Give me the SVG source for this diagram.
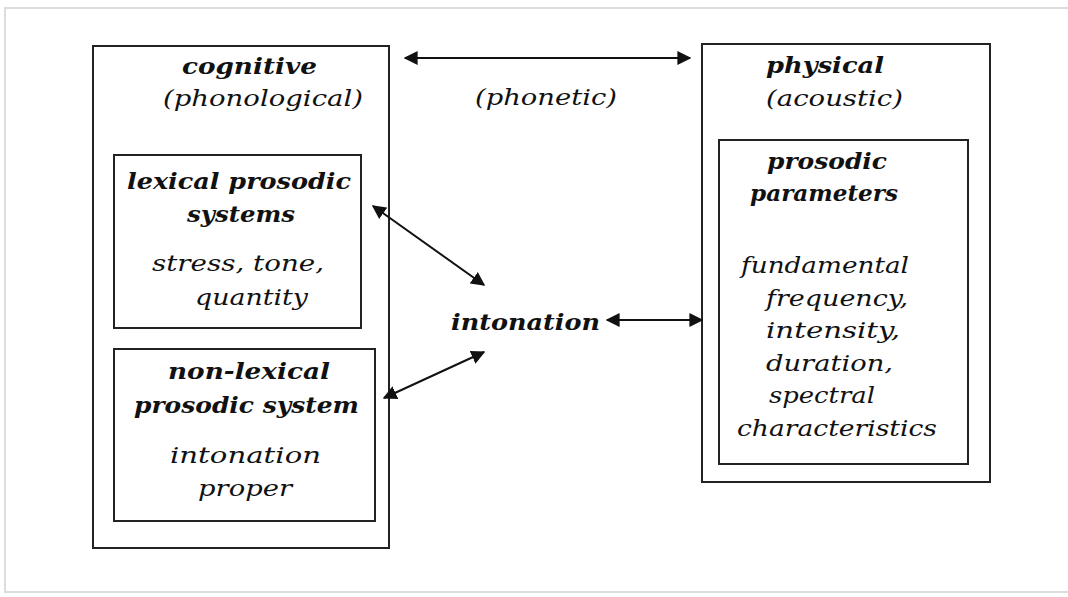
<svg xmlns="http://www.w3.org/2000/svg" width="1068" height="597" viewBox="0 0 1068 597">
<defs>
<marker id="ah" viewBox="0 0 10 10" refX="9" refY="5" markerWidth="7" markerHeight="7" orient="auto-start-reverse" markerUnits="strokeWidth">
<path d="M0,0 L10,5 L0,10 Z" fill="#111"/>
</marker>
<style>
.box{fill:none;stroke:#222;stroke-width:2}
.t{font-family:"DejaVu Serif","Liberation Serif",serif;font-style:italic;font-size:23px;fill:#111}
.b{font-weight:bold}
.c{stroke:#111;stroke-width:2;fill:none}
</style>
</defs>
<rect x="0" y="0" width="1068" height="597" fill="#fff"/>
<path d="M1068,8 L5,8 L5,592 L1068,592" fill="none" stroke="#ddd" stroke-width="2"/>
<g id="cognitive">
<rect class="box" x="93" y="46" width="296" height="502"/>
<text class="t b" x="182" y="74" textLength="135" lengthAdjust="spacingAndGlyphs">cognitive</text>
<text class="t" x="163" y="106" textLength="200" lengthAdjust="spacingAndGlyphs">(phonological)</text>
</g>
<g id="lexical">
<rect class="box" x="114" y="155" width="247" height="173"/>
<text class="t b" x="127" y="189" textLength="224" lengthAdjust="spacingAndGlyphs">lexical prosodic</text>
<text class="t b" x="187" y="222" textLength="108" lengthAdjust="spacingAndGlyphs">systems</text>
<text class="t" x="152" y="271" textLength="172" lengthAdjust="spacingAndGlyphs">stress, tone,</text>
<text class="t" x="195" y="305" textLength="113" lengthAdjust="spacingAndGlyphs">quantity</text>
</g>
<g id="nonlexical">
<rect class="box" x="114" y="349" width="261" height="172"/>
<text class="t b" x="168" y="379" textLength="162" lengthAdjust="spacingAndGlyphs">non-lexical</text>
<text class="t b" x="134" y="413" textLength="225" lengthAdjust="spacingAndGlyphs">prosodic system</text>
<text class="t" x="170" y="463" textLength="151" lengthAdjust="spacingAndGlyphs">intonation</text>
<text class="t" x="198" y="496" textLength="94" lengthAdjust="spacingAndGlyphs">proper</text>
</g>
<g id="physical">
<rect class="box" x="702" y="44" width="288" height="438"/>
<text class="t b" x="766" y="73" textLength="118" lengthAdjust="spacingAndGlyphs">physical</text>
<text class="t" x="766" y="106" textLength="137" lengthAdjust="spacingAndGlyphs">(acoustic)</text>
</g>
<g id="parameters">
<rect class="box" x="719" y="140" width="249" height="324"/>
<text class="t b" x="767" y="169" textLength="120" lengthAdjust="spacingAndGlyphs">prosodic</text>
<text class="t b" x="750" y="201" textLength="148" lengthAdjust="spacingAndGlyphs">parameters</text>
<text class="t" x="741" y="273" textLength="168" lengthAdjust="spacingAndGlyphs">fundamental</text>
<text class="t" x="766" y="306" textLength="142" lengthAdjust="spacingAndGlyphs">frequency,</text>
<text class="t" x="766" y="338" textLength="134" lengthAdjust="spacingAndGlyphs">intensity,</text>
<text class="t" x="766" y="371" textLength="127" lengthAdjust="spacingAndGlyphs">duration,</text>
<text class="t" x="769" y="403" textLength="106" lengthAdjust="spacingAndGlyphs">spectral</text>
<text class="t" x="737" y="436" textLength="200" lengthAdjust="spacingAndGlyphs">characteristics</text>
</g>
<g id="intonation">
<text class="t b" x="451" y="330" textLength="149" lengthAdjust="spacingAndGlyphs">intonation</text>
</g>
<g id="phonetic">
<text class="t" x="475" y="105" textLength="142" lengthAdjust="spacingAndGlyphs">(phonetic)</text>
</g>
<g id="connectors">
<line class="c" x1="405" y1="58" x2="690" y2="58" marker-start="url(#ah)" marker-end="url(#ah)"/>
<line class="c" x1="607" y1="320" x2="702" y2="320" marker-start="url(#ah)" marker-end="url(#ah)"/>
<line class="c" x1="373" y1="206" x2="484" y2="285" marker-start="url(#ah)" marker-end="url(#ah)"/>
<line class="c" x1="384" y1="398" x2="484" y2="352" marker-start="url(#ah)" marker-end="url(#ah)"/>
</g>
</svg>
